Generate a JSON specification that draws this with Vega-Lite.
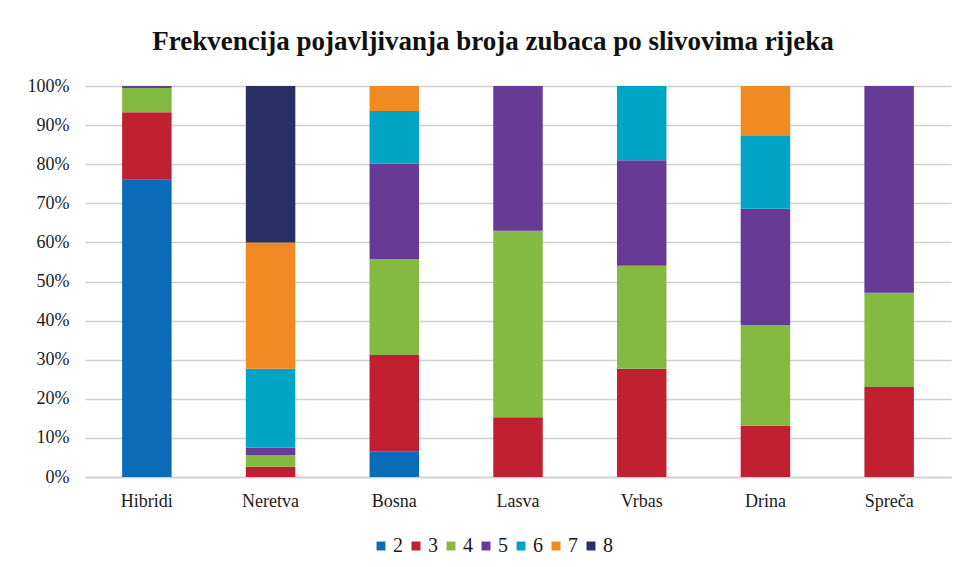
{
  "$schema": "https://vega.github.io/schema/vega-lite/v6.json",
  "autosize": "none",
  "width": 866,
  "height": 391,
  "padding": {"left": 85, "top": 86, "right": 9, "bottom": 90},
  "background": "white",
  "title": {
    "text": "Frekvencija pojavljivanja  broja zubaca po slivovima rijeka",
    "font": "Liberation Serif",
    "fontSize": 27,
    "fontWeight": "bold",
    "color": "#111111",
    "anchor": "middle",
    "offset": 21,
    "dx": -25
  },
  "data": {
    "values": [
      {"rijeka": "Hibridi", "zubaca": "2", "pct": 76.0},
      {"rijeka": "Hibridi", "zubaca": "3", "pct": 17.3},
      {"rijeka": "Hibridi", "zubaca": "4", "pct": 6.2},
      {"rijeka": "Hibridi", "zubaca": "5", "pct": 0.5},
      {"rijeka": "Neretva", "zubaca": "3", "pct": 2.6},
      {"rijeka": "Neretva", "zubaca": "4", "pct": 3.0},
      {"rijeka": "Neretva", "zubaca": "5", "pct": 1.9},
      {"rijeka": "Neretva", "zubaca": "6", "pct": 20.2},
      {"rijeka": "Neretva", "zubaca": "7", "pct": 32.3},
      {"rijeka": "Neretva", "zubaca": "8", "pct": 40.0},
      {"rijeka": "Bosna", "zubaca": "2", "pct": 6.6},
      {"rijeka": "Bosna", "zubaca": "3", "pct": 24.6},
      {"rijeka": "Bosna", "zubaca": "4", "pct": 24.5},
      {"rijeka": "Bosna", "zubaca": "5", "pct": 24.5},
      {"rijeka": "Bosna", "zubaca": "6", "pct": 13.4},
      {"rijeka": "Bosna", "zubaca": "7", "pct": 6.4},
      {"rijeka": "Lasva", "zubaca": "3", "pct": 15.3},
      {"rijeka": "Lasva", "zubaca": "4", "pct": 47.7},
      {"rijeka": "Lasva", "zubaca": "5", "pct": 37.0},
      {"rijeka": "Vrbas", "zubaca": "3", "pct": 27.7},
      {"rijeka": "Vrbas", "zubaca": "4", "pct": 26.3},
      {"rijeka": "Vrbas", "zubaca": "5", "pct": 27.0},
      {"rijeka": "Vrbas", "zubaca": "6", "pct": 19.0},
      {"rijeka": "Drina", "zubaca": "3", "pct": 13.1},
      {"rijeka": "Drina", "zubaca": "4", "pct": 25.8},
      {"rijeka": "Drina", "zubaca": "5", "pct": 29.7},
      {"rijeka": "Drina", "zubaca": "6", "pct": 18.6},
      {"rijeka": "Drina", "zubaca": "7", "pct": 12.8},
      {"rijeka": "Spreča", "zubaca": "3", "pct": 23.0},
      {"rijeka": "Spreča", "zubaca": "4", "pct": 24.1},
      {"rijeka": "Spreča", "zubaca": "5", "pct": 52.9}
    ]
  },
  "mark": {"type": "bar"},
  "encoding": {
    "x": {
      "field": "rijeka",
      "type": "nominal",
      "sort": ["Hibridi", "Neretva", "Bosna", "Lasva", "Vrbas", "Drina", "Spreča"],
      "scale": {"paddingInner": 0.6, "paddingOuter": 0.3},
      "axis": {
        "title": null,
        "labelAngle": 0,
        "labelFont": "Liberation Serif",
        "labelFontSize": 18,
        "labelColor": "#1a1a1a",
        "labelPadding": 15,
        "ticks": false,
        "domainColor": "#d0d0d0",
        "domainWidth": 1.5
      }
    },
    "y": {
      "field": "pct",
      "type": "quantitative",
      "stack": "normalize",
      "scale": {"domain": [0, 1], "nice": false},
      "axis": {
        "title": null,
        "format": ".0%",
        "values": [0, 0.1, 0.2, 0.3, 0.4, 0.5, 0.6, 0.7, 0.8, 0.9, 1],
        "labelOverlap": false,
        "labelFont": "Liberation Serif",
        "labelFontSize": 18,
        "labelColor": "#1a1a1a",
        "labelPadding": 16,
        "ticks": false,
        "domain": false,
        "grid": true,
        "gridColor": "#d0d0d0",
        "gridWidth": 1.5
      }
    },
    "color": {
      "field": "zubaca",
      "type": "nominal",
      "scale": {
        "domain": ["2", "3", "4", "5", "6", "7", "8"],
        "range": ["#0a6cb8", "#c0202f", "#84ba41", "#673a96", "#00a5c6", "#f18a22", "#2a2f66"]
      },
      "legend": {
        "title": null,
        "orient": "none",
        "legendX": 286,
        "legendY": 450,
        "direction": "horizontal",
        "symbolType": "square",
        "symbolSize": 80,
        "symbolStrokeWidth": 0,
        "labelFont": "Liberation Serif",
        "labelFontSize": 20,
        "labelColor": "#1a1a1a",
        "labelOffset": 2,
        "columnPadding": 3
      }
    },
    "order": {"field": "zubaca", "type": "nominal", "sort": "ascending"}
  },
  "config": {"view": {"stroke": null}}
}
